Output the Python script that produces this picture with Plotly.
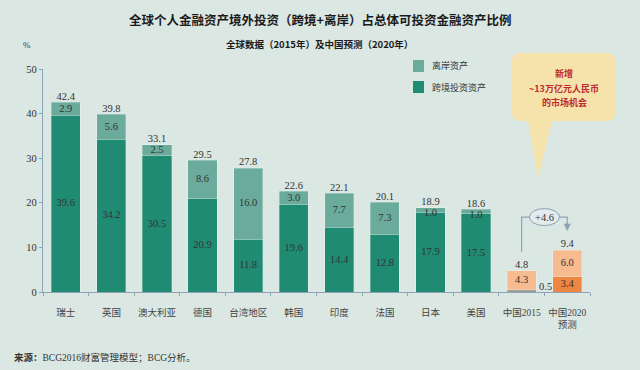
import plotly.graph_objects as go

categories = ["瑞士", "英国", "澳大利亚", "德国", "台湾地区", "韩国", "印度", "法国", "日本", "美国", "中国2015", "中国2020<br>预测"]
cross_border = [39.6, 34.2, 30.5, 20.9, 11.8, 19.6, 14.4, 12.8, 17.9, 17.5, 0.5, 3.4]
offshore = [2.9, 5.6, 2.5, 8.6, 16.0, 3.0, 7.7, 7.3, 1.0, 1.0, 4.3, 6.0]
totals = [42.4, 39.8, 33.1, 29.5, 27.8, 22.6, 22.1, 20.1, 18.9, 18.6, 4.8, 9.4]
china_increase = "+4.6"
callout_lines = ["新增", "~13万亿元人民币", "的市场机会"]
y_ticks = [0, 10, 20, 30, 40, 50]

W, H = 640, 370
ML, MR, MT, MB = 43, 50, 69, 78
PW, PH = W - ML - MR, H - MT - MB

def px(x):
    return (x - ML) / PW

def py(y):
    return (H - MB - y) / PH

dark_green = "#1f8b73"
light_green = "#6aab9b"
light_orange = "#f6bb8e"
dark_orange = "#ec8642"
gray_seg = "#9d9d99"
bg = "#dae7e2"
axis_col = "#8fa3b6"
txt = "#333333"
serif = "Liberation Serif"
cjk = "Noto Sans CJK SC"
mixed = "Liberation Serif, Noto Sans CJK SC"

n = len(categories)
cross_colors = [dark_green] * 10 + [gray_seg, dark_orange]
off_colors = [light_green] * 10 + [light_orange, light_orange]

fig = go.Figure()
fig.add_trace(go.Bar(x=categories, y=cross_border, marker=dict(color=cross_colors, line=dict(width=0.8, color="rgba(255,255,255,0.35)")),
                     width=0.64, showlegend=False, hoverinfo="skip"))
fig.add_trace(go.Bar(x=categories, y=offshore, marker=dict(color=off_colors, line=dict(width=0.8, color="rgba(255,255,255,0.35)")),
                     width=0.64, showlegend=False, hoverinfo="skip"))

# segment labels
seg_x, seg_y, seg_t = [], [], []
for i in range(n):
    if i != 10:
        seg_x.append(categories[i]); seg_y.append(cross_border[i] / 2); seg_t.append(f"{cross_border[i]:.1f}")
    top = cross_border[i] + offshore[i]
    ylab = cross_border[i] + offshore[i] / 2 if offshore[i] >= 2 else top - 1.3
    seg_x.append(categories[i]); seg_y.append(ylab); seg_t.append(f"{offshore[i]:.1f}")
fig.add_trace(go.Scatter(x=seg_x, y=seg_y, text=seg_t, mode="text", textposition="middle center",
                         textfont=dict(family=serif, size=10.5, color=txt), showlegend=False, hoverinfo="skip"))
# totals
tops = [c + o for c, o in zip(cross_border, offshore)]
fig.add_trace(go.Scatter(x=categories, y=tops, text=[f"{t:.1f}" for t in totals], mode="text", textposition="top center",
                         textfont=dict(family=serif, size=10.5, color=txt), showlegend=False, hoverinfo="skip"))

annotations = []
shapes = []
# 0.5 label for China 2015 cross-border
annotations.append(dict(x=10, y=cross_border[10], xref="x", yref="y", text=f"{cross_border[10]:.1f}", showarrow=False,
                        xshift=24, yshift=3, yanchor="middle", font=dict(family=serif, size=10.5, color=txt)))

# increase arrow between China bars
y_hi = tops[10] + 12.0
shapes.append(dict(type="path", xref="x", yref="y",
                   path=f"M 10,{tops[10]+4.2} L 10,{y_hi} L 11,{y_hi} L 11,{tops[11]+5.2}",
                   line=dict(color=axis_col, width=1.2)))
annotations.append(dict(x=11, y=tops[11] + 4.3, ax=11, ay=y_hi - 1, xref="x", yref="y", axref="x", ayref="y",
                        showarrow=True, arrowhead=2, arrowsize=1.2, arrowwidth=1.2, arrowcolor=axis_col, text=""))
shapes.append(dict(type="circle", xref="x", yref="y", x0=10.17, x1=10.83, y0=y_hi - 1.9, y1=y_hi + 1.9,
                   fillcolor="#e4ebee", line=dict(color="#8f9fb3", width=1)))
annotations.append(dict(x=10.5, y=y_hi, xref="x", yref="y", text=china_increase, showarrow=False, yanchor="middle",
                        font=dict(family=serif, size=10.5, color=txt)))

# callout box
x0, x1, y0, y1, r = 512, 615, 53, 121, 8
tail = f"L {px(552)},{py(y1)} L {px(538)},{py(178)} L {px(528)},{py(y1)} "
path = (f"M {px(x0+r)},{py(y0)} L {px(x1-r)},{py(y0)} Q {px(x1)},{py(y0)} {px(x1)},{py(y0+r)} "
        f"L {px(x1)},{py(y1-r)} Q {px(x1)},{py(y1)} {px(x1-r)},{py(y1)} {tail}"
        f"L {px(x0+r)},{py(y1)} Q {px(x0)},{py(y1)} {px(x0)},{py(y1-r)} "
        f"L {px(x0)},{py(y0+r)} Q {px(x0)},{py(y0)} {px(x0+r)},{py(y0)} Z")
shapes.append(dict(type="path", xref="paper", yref="paper", path=path, fillcolor="#f5e3ab", line=dict(width=0), layer="below"))
for k, line in enumerate(callout_lines):
    annotations.append(dict(x=px(564), y=py(74 + 14 * k), xref="paper", yref="paper", showarrow=False,
                            yanchor="middle", xanchor="center", text=f"<b>{line}</b>",
                            font=dict(family=cjk, size=9, color="#c0292b")))

# legend
for j, (col, lab) in enumerate([(light_green, "离岸资产"), (dark_green, "跨境投资资产")]):
    ty = 66 + j * 21
    shapes.append(dict(type="rect", xref="paper", yref="paper", x0=px(413), x1=px(424), y0=py(ty - 6), y1=py(ty + 6),
                       fillcolor=col, line=dict(width=0)))
    annotations.append(dict(x=px(430), y=py(ty), xref="paper", yref="paper", xanchor="left", yanchor="middle", showarrow=False,
                            text=lab, font=dict(family=cjk, size=9, color=txt)))

# titles
annotations.append(dict(x=px(320), y=py(19), xref="paper", yref="paper", showarrow=False, yanchor="middle", xanchor="center",
                        text="<b>全球个人金融资产境外投资（跨境+离岸）占总体可投资金融资产比例</b>",
                        font=dict(family=cjk, size=12.5, color="#1a1a1a")))
annotations.append(dict(x=px(320), y=py(44), xref="paper", yref="paper", showarrow=False, yanchor="middle", xanchor="center",
                        text="<b>全球数据（2015年）及中国预测（2020年）</b>",
                        font=dict(family=cjk, size=9.5, color="#1a1a1a")))
annotations.append(dict(x=px(27), y=py(45), xref="paper", yref="paper", showarrow=False, yanchor="middle", xanchor="center",
                        text="%", font=dict(family=serif, size=9, color=txt)))
annotations.append(dict(x=px(12), y=py(357), xref="paper", yref="paper", xanchor="left", yanchor="middle", showarrow=False,
                        text="<b>来源：</b>BCG2016财富管理模型；BCG分析。",
                        font=dict(family=mixed, size=9.5, color=txt)))

fig.update_layout(
    width=W, height=H, margin=dict(l=ML, r=MR, t=MT, b=MB),
    barmode="stack", paper_bgcolor=bg, plot_bgcolor=bg,
    shapes=shapes, annotations=annotations, showlegend=False,
    xaxis=dict(type="category", categoryorder="array", categoryarray=categories, range=[-0.5, n - 0.5],
               showline=True, linecolor=axis_col, linewidth=1.2, ticks="outside", tickson="boundaries",
               ticklen=3, tickcolor=axis_col, showgrid=False, zeroline=False, tickangle=0, automargin=False,
               tickfont=dict(family=mixed, size=9.5, color="#444444"), ticklabelstandoff=11),
    yaxis=dict(range=[0, 50], tickvals=y_ticks, showline=True, linecolor=axis_col, linewidth=1.2,
               ticks="outside", ticklen=3, tickcolor=axis_col, showgrid=False, zeroline=False, automargin=False,
               tickfont=dict(family=serif, size=10.5, color=txt)),
)
fig.write_html("out.html", config={"displayModeBar": False},
               post_script=f"document.body.style.margin='0';document.body.style.background='{bg}';")
